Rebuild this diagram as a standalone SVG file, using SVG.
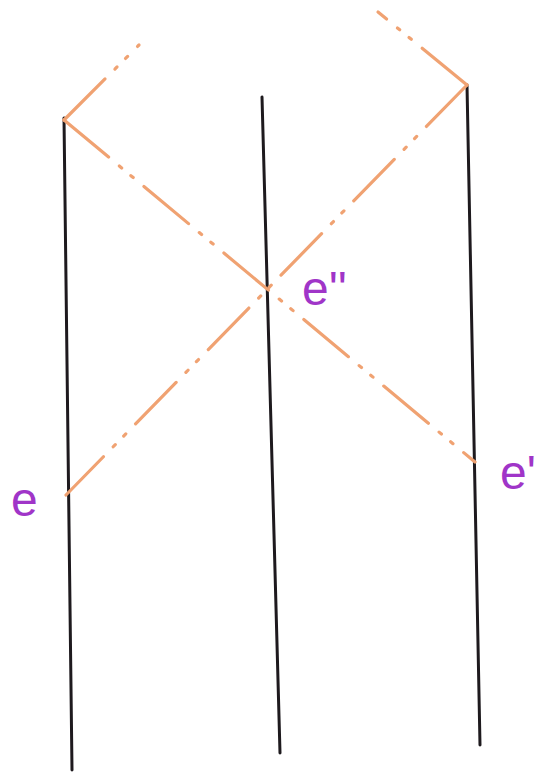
<svg xmlns="http://www.w3.org/2000/svg" width="553" height="776" viewBox="0 0 553 776">
<style>
.wl{stroke:#1e1a1e;stroke-width:3;stroke-linecap:round;fill:none}
.ray{stroke:#f0a272;stroke-width:3.2;stroke-linecap:round;fill:none;stroke-dasharray:58 14 3 12 3 14}
.lbl{font-family:"Liberation Sans",Arial,sans-serif;font-size:48px;fill:#a035c8}
</style>
<rect width="553" height="776" fill="#ffffff"/>
<g id="worldlines">
<line class="wl" x1="64" y1="118" x2="72" y2="770"/>
<line class="wl" x1="262" y1="97" x2="280" y2="753"/>
<line class="wl" x1="467" y1="85" x2="480" y2="745"/>
</g>
<g id="connectors">
<path class="ray" d="M64,120 L139,45"/>
<path class="ray" d="M64,120 L475,462"/>
<path class="ray" d="M467,85 L378,12"/>
<path class="ray" d="M467,85 L66,495"/>
</g>
<g id="labels">
<text class="lbl" x="11" y="516">e</text>
<text class="lbl" x="302" y="305">e''</text>
<text class="lbl" x="500" y="489">e'</text>
</g>
</svg>
